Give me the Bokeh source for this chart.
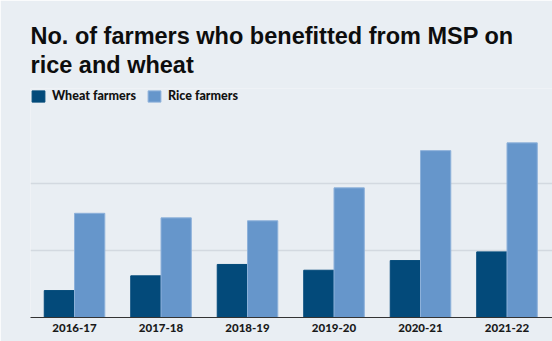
from bokeh.plotting import figure
from bokeh.models import ColumnDataSource, Range1d, FixedTicker, Legend, LegendItem, Title
from bokeh.transform import dodge
from bokeh.embed import file_html
from bokeh.resources import INLINE

# ---- data (lakh farmers) ----
years = ["2016-17", "2017-18", "2018-19", "2019-20", "2020-21", "2021-22"]
wheat_farmers = [20.1, 31.1, 39.6, 35.3, 42.5, 49.0]
rice_farmers = [77.8, 74.4, 72.2, 96.8, 124.6, 130.4]
grid_values = [50, 100]

BG = "#E9EEF3"
WHEAT = "#034A7A"
RICE = "#6696CB"
LFONT = "Lato Black"
TFONT = "Liberation Sans"

src = ColumnDataSource(dict(x=list(range(len(years))), wheat=wheat_farmers, rice=rice_farmers))

p = figure(width=552, height=341, output_backend="svg", toolbar_location=None,
           x_range=Range1d(-0.509, 5.526), y_range=Range1d(0, 171),
           min_border_left=30, min_border_right=0, min_border_top=88, min_border_bottom=24)
p.background_fill_color = BG
p.border_fill_color = BG
p.outline_line_color = None

bw = 0.35
r_w = p.vbar(x=dodge("x", -bw / 2, range=p.x_range), top="wheat", width=bw, source=src,
             fill_color=WHEAT, line_color=WHEAT, line_width=1)
r_r = p.vbar(x=dodge("x", bw / 2, range=p.x_range), top="rice", width=bw, source=src,
             fill_color=RICE, line_color="#8DB1DA", line_width=1)

p.yaxis.visible = False
p.xgrid.grid_line_color = None
p.ygrid.ticker = FixedTicker(ticks=grid_values)
p.ygrid.grid_line_color = "#D3D9E0"
p.ygrid.grid_line_width = 1.5

xa = p.xaxis[0]
xa.ticker = FixedTicker(ticks=list(range(len(years))))
xa.major_label_overrides = {i: y for i, y in enumerate(years)}
xa.major_tick_line_color = None
xa.major_tick_out = 0
xa.major_tick_in = 0
xa.minor_tick_line_color = None
xa.axis_line_color = "#333333"
xa.axis_line_width = 1.2
xa.major_label_text_font = LFONT
xa.major_label_text_font_size = "11.5px"
xa.major_label_text_color = "#1a1a1a"
xa.major_label_standoff = 6

legend = Legend(items=[LegendItem(label="Wheat farmers", renderers=[r_w]),
                       LegendItem(label="Rice farmers", renderers=[r_r])],
                orientation="horizontal", location="top_left",
                margin=0, padding=0, spacing=10, label_standoff=6,
                glyph_width=16, glyph_height=14,
                label_text_font=LFONT, label_text_font_size="12.5px", label_text_color="#111111",
                border_line_color=None, background_fill_alpha=0)
p.add_layout(legend, "center")

title = Title(text="No. of farmers who benefitted from MSP on\nrice and wheat", align="left",
              text_font=TFONT, text_font_style="bold", text_font_size="23.5px",
              text_line_height=1.1, text_color="#0d0d0d", standoff=21, offset=0)
p.add_layout(title, "above")

open("out.html", "w").write(file_html(p, INLINE))
